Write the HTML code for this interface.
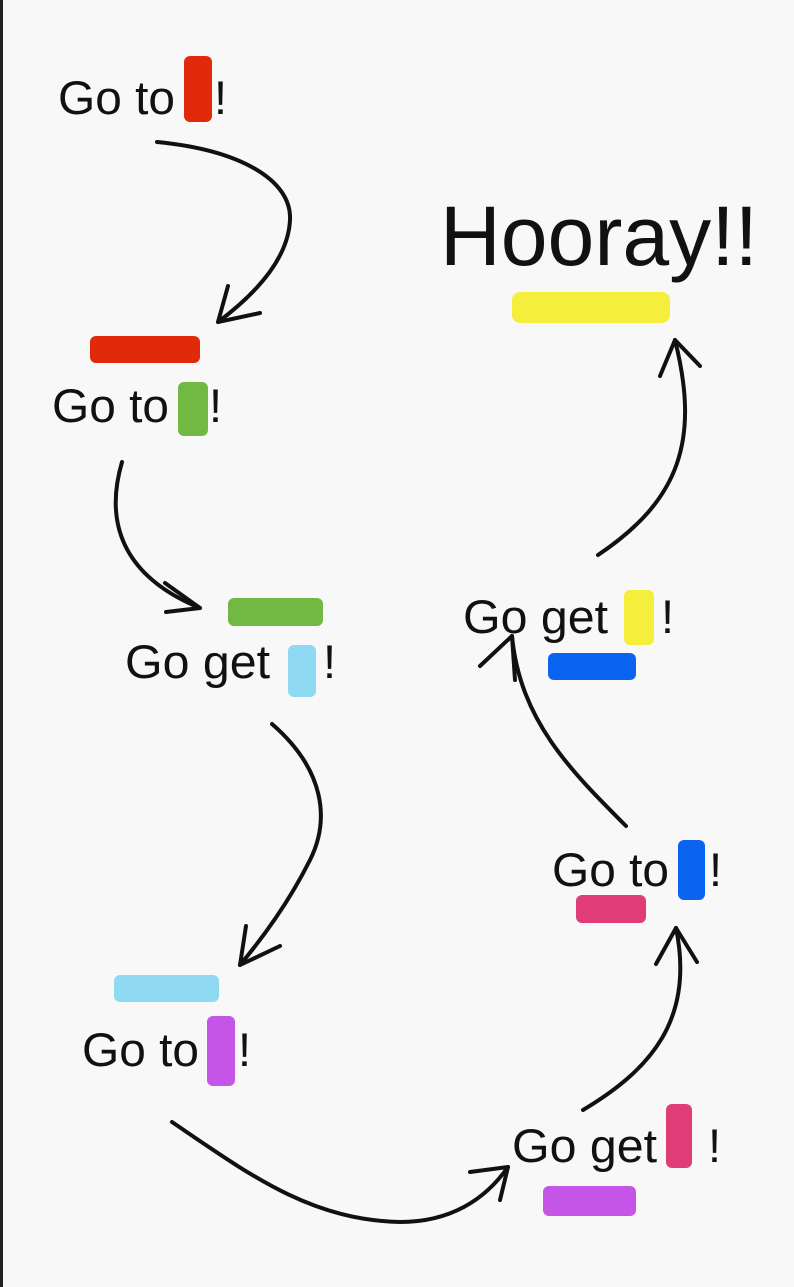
<!DOCTYPE html>
<html><head><meta charset="utf-8"><style>
html,body{margin:0;padding:0;background:#f8f8f8;}
svg{display:block}
text{font-family:"Liberation Sans",sans-serif;fill:#111;}
</style></head><body>
<svg width="794" height="1287" viewBox="0 0 794 1287" xmlns="http://www.w3.org/2000/svg">
<rect x="0" y="0" width="794" height="1287" fill="#f8f8f8"/>
<rect x="0" y="0" width="3" height="1287" fill="#222"/>
<g stroke-linecap="round" stroke-linejoin="round">
<rect x="184" y="56" width="28" height="66" rx="6" fill="#e02a0a"/>
<rect x="90" y="336" width="110" height="27" rx="6" fill="#e02a0a"/>
<rect x="178" y="382" width="30" height="54" rx="6" fill="#72b944"/>
<rect x="228" y="598" width="95" height="28" rx="6" fill="#72b944"/>
<rect x="288" y="645" width="28" height="52" rx="6" fill="#8fd9f2"/>
<rect x="114" y="975" width="105" height="27" rx="6" fill="#8fd9f2"/>
<rect x="207" y="1016" width="28" height="70" rx="6" fill="#c455e6"/>
<rect x="543" y="1186" width="93" height="30" rx="6" fill="#c455e6"/>
<rect x="666" y="1104" width="26" height="64" rx="6" fill="#e03c78"/>
<rect x="576" y="895" width="70" height="28" rx="6" fill="#e03c78"/>
<rect x="678" y="840" width="27" height="60" rx="6" fill="#0a64f0"/>
<rect x="548" y="653" width="88" height="27" rx="6" fill="#0a64f0"/>
<rect x="624" y="590" width="30" height="55" rx="6" fill="#f4ee3c"/>
<rect x="512" y="292" width="158" height="31" rx="8" fill="#f4ee3c"/>
</g>
<text x="58" y="114" font-size="47" textLength="117" lengthAdjust="spacingAndGlyphs">Go to</text>
<text x="214" y="114" font-size="47">!</text>
<text x="52" y="422" font-size="47" textLength="117" lengthAdjust="spacingAndGlyphs">Go to</text>
<text x="209" y="422" font-size="47">!</text>
<text x="125" y="678" font-size="47" textLength="145" lengthAdjust="spacingAndGlyphs">Go get</text>
<text x="323" y="678" font-size="47">!</text>
<text x="82" y="1066" font-size="47" textLength="117" lengthAdjust="spacingAndGlyphs">Go to</text>
<text x="238" y="1066" font-size="47">!</text>
<text x="512" y="1162" font-size="47" textLength="145" lengthAdjust="spacingAndGlyphs">Go get</text>
<text x="708" y="1162" font-size="47">!</text>
<text x="552" y="886" font-size="47" textLength="117" lengthAdjust="spacingAndGlyphs">Go to</text>
<text x="709" y="886" font-size="47">!</text>
<text x="463" y="633" font-size="47" textLength="145" lengthAdjust="spacingAndGlyphs">Go get</text>
<text x="661" y="633" font-size="47">!</text>
<text x="440" y="265" font-size="84" textLength="318" lengthAdjust="spacingAndGlyphs">Hooray!!</text>
<g fill="none" stroke="#111" stroke-width="4" stroke-linecap="round" stroke-linejoin="round">
<path d="M157 142 C240 150 292 180 290 220 C288 262 250 298 218 322"/>
<path d="M228 286 L218 322 L260 313"/>
<path d="M122 462 C105 520 120 575 200 608"/>
<path d="M165 583 L200 608 L166 612"/>
<path d="M272 724 C325 770 330 820 310 860 C290 900 265 935 240 965"/>
<path d="M246 926 L240 965 L280 946"/>
<path d="M172 1122 C250 1175 310 1220 400 1222 C450 1222 485 1200 508 1167"/>
<path d="M470 1172 L508 1167 L500 1200"/>
<path d="M583 1110 C650 1070 695 1020 676 928"/>
<path d="M656 964 L676 928 L697 962"/>
<path d="M626 826 C570 770 520 720 512 636"/>
<path d="M480 666 L512 636 L515 680"/>
<path d="M598 555 C680 500 700 440 675 340"/>
<path d="M660 376 L675 340 L700 366"/>
</g>
</svg>
</body></html>
